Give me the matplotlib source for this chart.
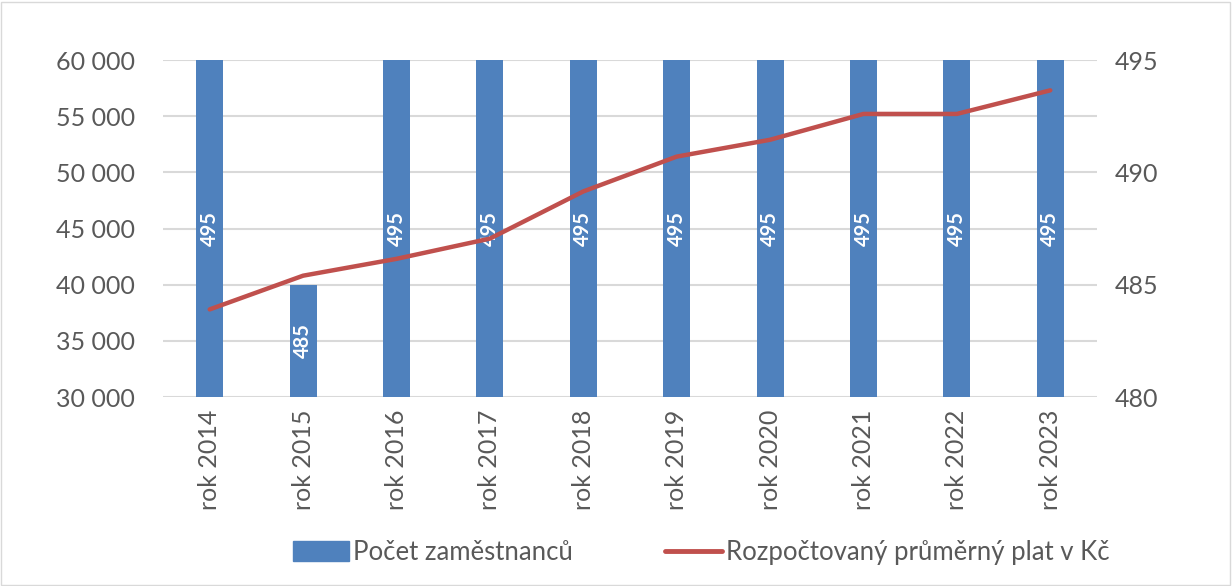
import matplotlib.pyplot as plt
from matplotlib.patches import Rectangle
from matplotlib.lines import Line2D
from matplotlib.ticker import MultipleLocator, FuncFormatter

plt.rcParams['font.family'] = ['Lato', 'DejaVu Sans']

years = ['rok 2014', 'rok 2015', 'rok 2016', 'rok 2017', 'rok 2018',
         'rok 2019', 'rok 2020', 'rok 2021', 'rok 2022', 'rok 2023']
employees = [495, 485, 495, 495, 495, 495, 495, 495, 495, 495]
salary = [37800, 40800, 42300, 44100, 48300, 51400, 52900, 55200, 55200, 57300]

blue = '#4F81BD'
red = '#C0504D'
grey_text = '#595959'
grid_col = '#D9D9D9'

fig = plt.figure(figsize=(12.32, 5.86), dpi=100)
fig.subplots_adjust(left=0.1323, right=0.8904, top=0.8976, bottom=0.3225)
ax = fig.add_subplot(111)
x = range(len(years))

# bars on the right-hand scale
ax.bar(x, employees, width=0.29, color=blue, zorder=2)
ax.set_ylim(480, 495)
ax.set_xlim(-0.5, len(years) - 0.5)
ax.yaxis.set_major_locator(MultipleLocator(5))
ax.yaxis.set_minor_locator(MultipleLocator(2.5))
ax.grid(True, which='both', axis='y', color=grid_col, linewidth=1.5, zorder=0)
ax.set_axisbelow(True)
ax.set_xticks(list(x))
ax.set_xticklabels(years, rotation=90)
for s in ax.spines.values():
    s.set_visible(False)

for xi, v in zip(x, employees):
    ax.text(xi, (480 + v) / 2, str(v), rotation=90, ha='center', va='center',
            color='white', fontsize=14.5, fontweight='bold', zorder=3)

# line on the left-hand scale
ax2 = ax.twinx()
ax2.plot(list(x), salary, color=red, linewidth=3.2, solid_capstyle='round', zorder=4)
ax2.set_ylim(30000, 60000)
ax2.yaxis.tick_left()
ax2.yaxis.set_major_locator(MultipleLocator(5000))
ax2.yaxis.set_major_formatter(FuncFormatter(lambda v, p: f'{int(v):,}'.replace(',', ' ')))
ax2.tick_params(axis='y', length=0, labelsize=18, labelcolor=grey_text, pad=20)
for s in ax2.spines.values():
    s.set_visible(False)

# twinx moves the first axis ticks, so put them back on the right
ax.yaxis.tick_right()
ax.tick_params(axis='y', which='both', length=0, labelsize=18, labelcolor=grey_text, pad=13)
ax.tick_params(axis='x', length=0, labelsize=18, labelcolor=grey_text, pad=9)

handles = [Rectangle((0, 0), 1, 1, color=blue),
           Line2D([0], [0], color=red, linewidth=3.5, solid_capstyle='round')]
fig.legend(handles, ['Počet zaměstnanců', 'Rozpočtovaný průměrný plat v Kč'],
           loc='center', bbox_to_anchor=(0.569, 0.057), ncol=2, frameon=False,
           fontsize=18.5, labelcolor=grey_text, handlelength=2.2, handleheight=0.8,
           handletextpad=0.15, columnspacing=3.6)

fig.patches.append(Rectangle((0.001, 0.002), 0.997, 0.995, transform=fig.transFigure,
                             fill=False, edgecolor=grid_col, linewidth=1))

fig.savefig('out.png', dpi=100)
